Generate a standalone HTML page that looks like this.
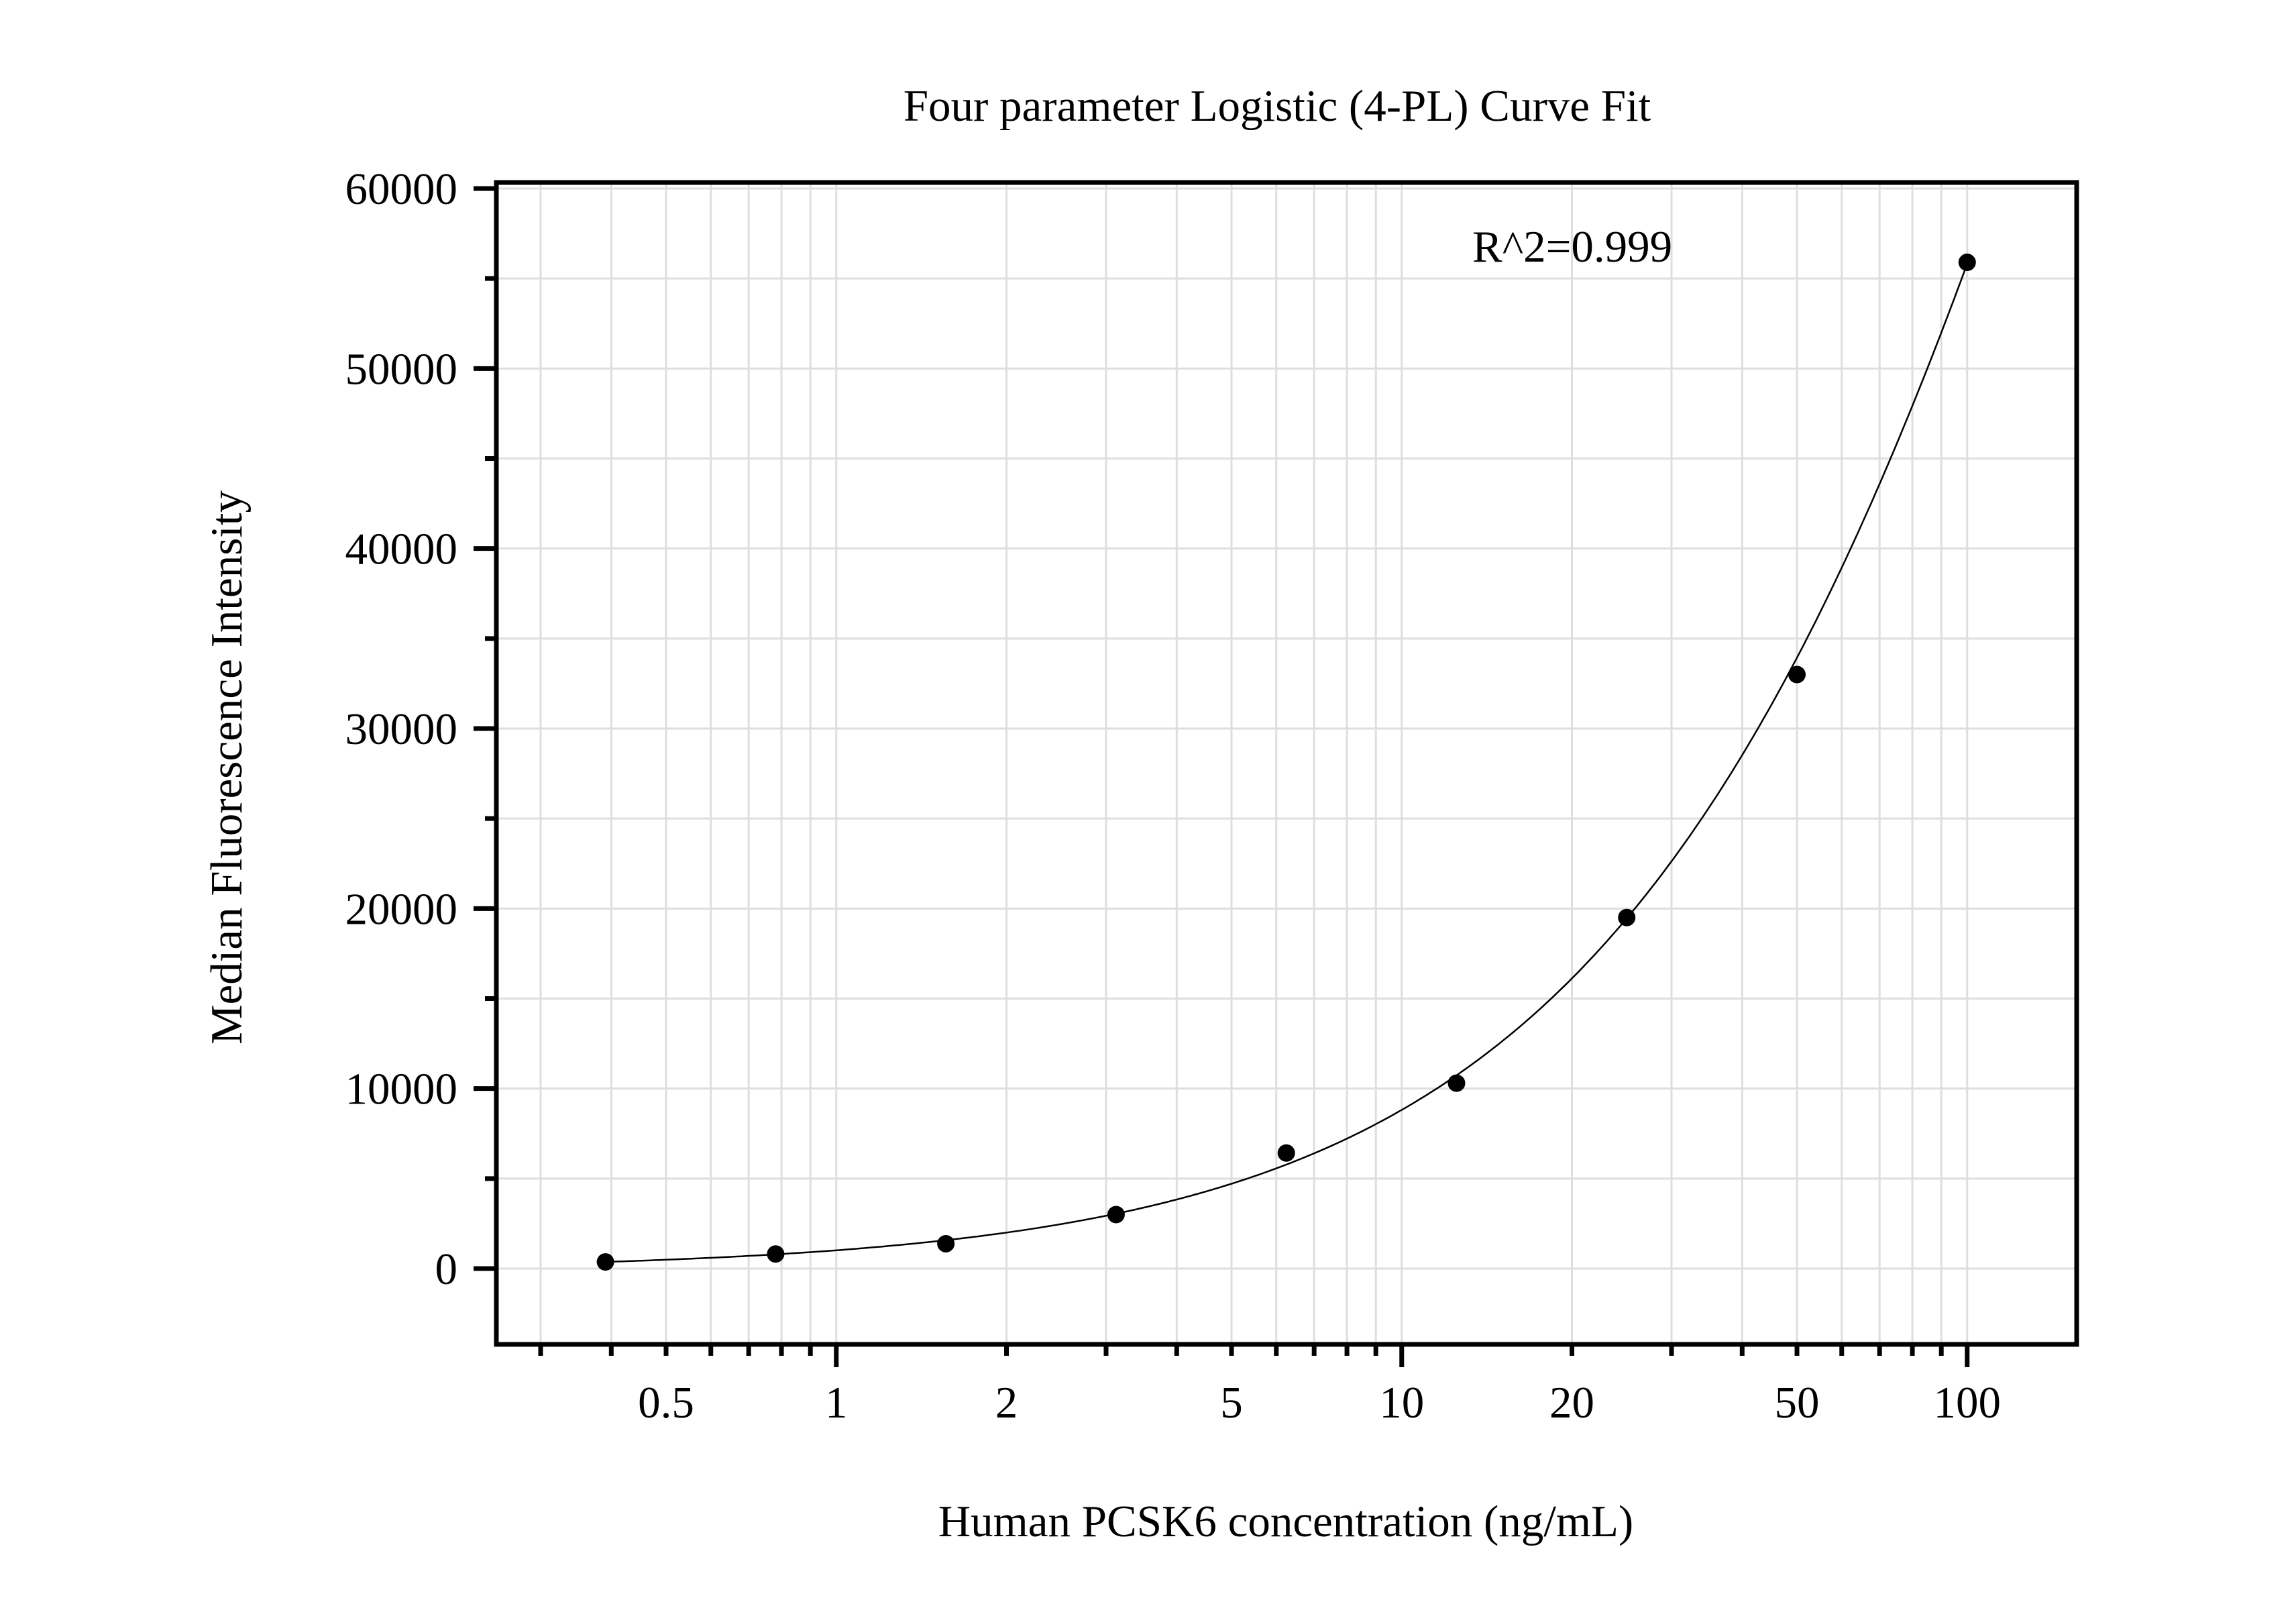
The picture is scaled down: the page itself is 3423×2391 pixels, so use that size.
<!DOCTYPE html>
<html><head><meta charset="utf-8"><style>
html,body{margin:0;padding:0;background:#fff;}
svg{display:block;font-family:"Liberation Serif",serif;}
</style></head><body>
<svg id="chart" width="3423" height="2391" viewBox="0 0 3423 2391" xmlns="http://www.w3.org/2000/svg">
<rect x="0" y="0" width="3423" height="2391" fill="#fff"/>
<g id="grid"></g>
<g id="curve-layer"></g>
<g id="points"></g>
<rect x="740" y="272" width="2356" height="1732" fill="none" stroke="#000" stroke-width="7"/>
<g id="axes"></g>
<text x="1904" y="180" font-size="67" text-anchor="middle">Four parameter Logistic (4-PL) Curve Fit</text>
<text x="2195" y="390" font-size="67">R^2=0.999</text>
<text x="1917" y="2290" font-size="67" text-anchor="middle">Human PCSK6 concentration (ng/mL)</text>
<text x="0" y="0" font-size="67" text-anchor="middle" transform="translate(360,1144) rotate(-90)">Median Fluorescence Intensity</text>
</svg>
<script>
const concentrations = [0.390625, 0.78125, 1.5625, 3.125, 6.25, 12.5, 25, 50, 100];
const mfiValues = [370, 810, 1380, 3000, 6420, 10300, 19500, 33000, 55900];
const fitParams = [-100, 0.92, 280, 200000]; // a (bottom), b (slope), c (EC50), d (top)
const xTickValues = [0.5, 1, 2, 5, 10, 20, 50, 100];
const xTickLabels = ["0.5", "1", "2", "5", "10", "20", "50", "100"];
const yTickValues = [0, 10000, 20000, 30000, 40000, 50000, 60000];
const yTickLabels = ["0", "10000", "20000", "30000", "40000", "50000", "60000"];

const NS = "http://www.w3.org/2000/svg";
const L = 740, R = 3096, T = 272, B = 2004;
const X0 = 993, XL0 = Math.log10(0.5), DEC = 843;
const Y0 = 1891, YPER = 1610 / 60000;
function xs(v){ return X0 + (Math.log10(v) - XL0) * DEC; }
function ys(v){ return Y0 - v * YPER; }
function mk(tag, attrs, parent){
  const e = document.createElementNS(NS, tag);
  for (const k in attrs) e.setAttribute(k, attrs[k]);
  parent.appendChild(e);
  return e;
}
function fourPL(x){
  const a = fitParams[0], b = fitParams[1], c = fitParams[2], d = fitParams[3];
  const r = Math.pow(x / c, b);
  return a + (d - a) * r / (1 + r);
}
const grid = document.getElementById('grid');
const axes = document.getElementById('axes');
const xMinor = [];
for (let e = -1; e <= 2; e++) for (let m = 1; m <= 9; m++) {
  const v = m * Math.pow(10, e);
  const px = xs(v);
  if (px > L + 4 && px < R - 4) xMinor.push(v);
}
xMinor.forEach(v => {
  const g = mk('line', {x1: xs(v), x2: xs(v), y1: T, y2: B, stroke: '#dedede', 'stroke-width': 3}, grid);
  
  
  const major = [1,10,100].indexOf(v) >= 0;
  const t = mk('line', {x1: xs(v), x2: xs(v), y1: B, y2: B + (major ? 34 : 17), stroke: '#000', 'stroke-width': 7}, axes);
  
  
});
xTickValues.forEach((v, i) => {
  const tx = mk('text', {x: xs(v), y: 2113, 'font-size': 67, 'text-anchor': 'middle'}, axes);
  tx.textContent = xTickLabels[i];
  
  
});
for (let v = 0; v <= 60000; v += 5000) {
  const gl = mk('line', {x1: L, x2: R, y1: ys(v), y2: ys(v), stroke: '#dedede', 'stroke-width': 3}, grid);
  
  
}
for (let v = 0; v <= 60000; v += 5000) {
  const major = v % 10000 === 0;
  const t = mk('line', {x1: L - (major ? 34 : 17), x2: L, y1: ys(v), y2: ys(v), stroke: '#000', 'stroke-width': 7}, axes);
  
  
}
yTickValues.forEach((v, i) => {
  const tx = mk('text', {x: 682, y: ys(v) + 23, 'font-size': 67, 'text-anchor': 'end'}, axes);
  tx.textContent = yTickLabels[i];
  
  
});
const cl = document.getElementById('curve-layer');
let d = '';
const x1 = concentrations[0], x2 = concentrations[concentrations.length - 1];
for (let i = 0; i <= 300; i++) {
  const lx = Math.log10(x1) + (Math.log10(x2) - Math.log10(x1)) * i / 300;
  const xv = Math.pow(10, lx);
  d += (i ? 'L' : 'M') + xs(xv).toFixed(1) + ',' + ys(fourPL(xv)).toFixed(1);
}
const path = mk('path', {d: d, fill: 'none', stroke: '#000', 'stroke-width': 2.5}, cl);


const pts = document.getElementById('points');
concentrations.forEach((c, i) => {
  const p = mk('circle', {cx: xs(c), cy: ys(mfiValues[i]), r: 13, fill: '#000'}, pts);
  
  
});
</script>
</body></html>
